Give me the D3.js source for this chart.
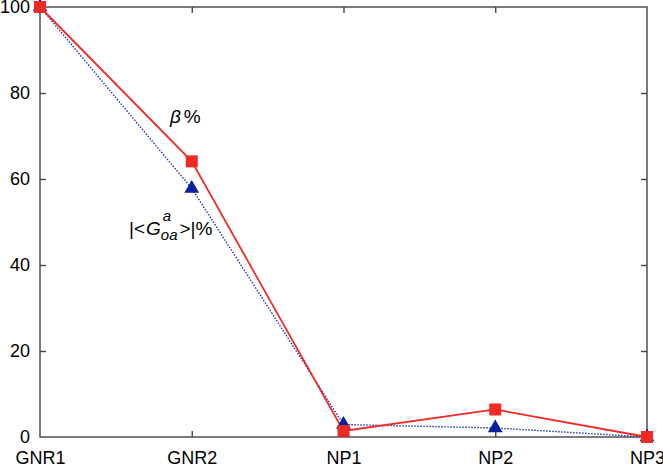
<!DOCTYPE html>
<html><head><meta charset="utf-8">
<script src="https://cdn.jsdelivr.net/npm/d3@7/dist/d3.min.js"></script>
<style>body{margin:0;background:#fff}svg{display:block}text{font-family:"Liberation Sans",Arial,sans-serif}</style>
</head><body><svg id="c" width="663" height="466"></svg>
<script>
const categories = ["GNR1","GNR2","NP1","NP2","NP3"];
const betaValues = [100, 64.1, 1.4, 6.4, 0];
const gValues = [100, 57.8, 2.9, 2.1, 0];
const yTicks = [0,20,40,60,80,100];

const svg = d3.select("#c");
const L=40, R=647, T=7, B=437;
const x = d3.scalePoint().domain(categories).range([L,R]);
const y = d3.scaleLinear().domain([0,100]).range([B,T]);
const axisColor="#444";

svg.append("rect").attr("x",L).attr("y",T).attr("width",R-L).attr("height",B-T)
  .attr("fill","none").attr("stroke",axisColor).attr("stroke-width",1.4);

const tl=6;
const yL = svg.append("g").attr("transform",`translate(${L},0)`).call(d3.axisLeft(y).tickValues(yTicks).tickSize(-tl).tickPadding(10));
const yR = svg.append("g").attr("transform",`translate(${R},0)`).call(d3.axisRight(y).tickValues(yTicks.slice(1,-1)).tickSize(-tl).tickFormat(""));
const xB = svg.append("g").attr("transform",`translate(0,${B})`).call(d3.axisBottom(x).tickSize(-tl).tickPadding(14));
const xT = svg.append("g").attr("transform",`translate(0,${T})`).call(d3.axisTop(x).tickSize(-tl).tickFormat(""));
[yL,yR,xB,xT].forEach(g=>{g.select(".domain").remove();g.selectAll("line").attr("stroke",axisColor).attr("stroke-width",1.4);});
xT.selectAll(".tick").filter(d=>d==="GNR1"||d==="NP3").remove();
xB.selectAll(".tick line").filter(d=>d==="GNR1"||d==="NP3").remove();
yL.selectAll(".tick line").filter(d=>d===0||d===100).remove();
yL.selectAll("text").attr("font-size",18).attr("fill","#000");
xB.selectAll("text").attr("font-size",18).attr("fill","#000").attr("dy","0.71em");

const line = d3.line().x((d,i)=>x(categories[i])).y(d=>y(d));
svg.append("path").datum(gValues).attr("d",line).attr("fill","none")
  .attr("stroke","#2233bb").attr("stroke-width",1.4).attr("stroke-dasharray","1.5,1.5");
svg.append("path").datum(betaValues).attr("d",line).attr("fill","none")
  .attr("stroke","#ee2a24").attr("stroke-width",1.8);

const tri = d3.symbol().type(d3.symbolTriangle).size(95);
svg.selectAll(".tri").data(gValues).join("path")
  .attr("transform",(d,i)=>`translate(${x(categories[i])},${y(d)})`)
  .attr("d",tri).attr("fill","#0a1f9a");
svg.selectAll(".sq").data(betaValues).join("rect")
  .attr("x",(d,i)=>x(categories[i])-6).attr("y",d=>y(d)-6)
  .attr("width",12).attr("height",12).attr("fill","#ee2a24");

// annotations
svg.append("text").attr("x",170).attr("y",123).attr("font-size",19).attr("font-style","italic").text("β")
  .append("tspan").attr("font-style","normal").attr("dx",3).text("%");

function put(txt, x0, yb, size, italic){
  const t = svg.append("text").attr("x",x0).attr("y",yb).attr("font-size",size)
    .attr("font-style",italic?"italic":"normal").text(txt);
  return x0 + t.node().getComputedTextLength();
}
let cx = put("|<", 129, 235, 19, false);
cx = put("G", cx+1, 235, 19, true);
put("a", cx+2, 221, 15, true);
cx = put("oa", cx, 240, 15, true);
put(">|%", cx+2, 235, 19, false);
</script></body></html>
